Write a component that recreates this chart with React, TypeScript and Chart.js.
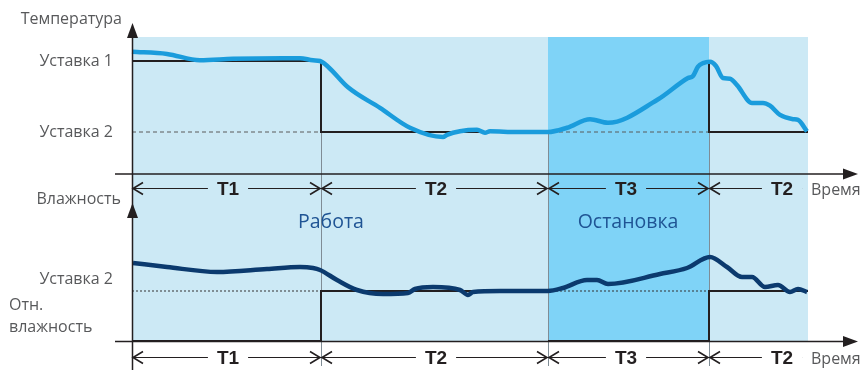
import React, { useEffect, useRef } from "react";
import { Chart, registerables } from "chart.js";

Chart.register(...registerables);

// ---- data (time units from the origin, values in panel units) ----
const PHASE_BOUNDS = [0, 189, 416, 577, 676];
const PHASE_LABELS = ["T1", "T2", "T3", "T2"];
const MODE_LABELS = ["Работа", "Остановка"];

const TEMP_SET1 = 30;
const TEMP_SET2 = 20;
const HUM_SET = 60;
const HUM_BASE = 50;

const tempTime = [0, 35, 68, 101, 151, 168, 181, 188, 196, 216, 248, 278, 311, 315, 328, 345, 353, 358, 385, 416, 435, 458, 476, 525, 556, 561, 566, 571, 578, 584, 591, 598, 605, 620, 631, 638, 648, 661, 666, 675];
const tempValues = [31.3, 31.0, 30.1, 30.3, 30.4, 30.4, 30.1, 30.0, 29.2, 26.3, 23.4, 20.6, 19.3, 19.6, 20.1, 20.3, 19.9, 20.1, 20.0, 20.0, 20.6, 21.8, 21.3, 24.5, 27.6, 27.9, 29.2, 29.7, 29.9, 29.3, 27.6, 27.5, 26.6, 24.1, 24.1, 23.7, 22.4, 21.8, 21.7, 20.1];

const humTime = [1, 35, 85, 135, 168, 181, 188, 205, 225, 251, 276, 283, 301, 328, 336, 341, 368, 416, 431, 455, 465, 476, 528, 555, 578, 595, 610, 620, 633, 646, 658, 666, 675];
const humValues = [65.6, 64.8, 63.8, 64.4, 64.8, 64.6, 64.2, 62.2, 60.2, 59.4, 59.6, 60.4, 60.8, 60.2, 59.2, 59.8, 60.0, 60.0, 60.6, 62.2, 62.2, 61.4, 63.4, 64.6, 66.8, 64.8, 62.8, 62.8, 60.8, 61.2, 59.8, 60.4, 59.8];

const tempSetTime = [0, 189, 189, 416, 500, 577, 577, 676];
const tempSetValues = [30, 30, 20, 20, null, 30, 20, 20];

const humSetTime = [0, 189, 189, 416, 416, 416, 577, 577, 676];
const humSetValues = [50, 50, 60, 60, null, 50, 50, 60, 60];

// ---- layout ----
const W = 864;
const H = 370;
const FONT = "'Open Sans', 'Noto Sans', sans-serif";
const TEXT_GRAY = "#58595b";
const INK = "#231f20";

function rangeFor(v1: number, p1: number, v2: number, p2: number) {
  const s = (p2 - p1) / (v1 - v2);
  const max = v1 + p1 / s;
  return { min: max - H / s, max };
}

const tempRange = rangeFor(TEMP_SET1, 61, TEMP_SET2, 132);
const humRange = rangeFor(HUM_SET, 291, HUM_BASE, 341);

const pts = (xs: number[], ys: (number | null)[]) => xs.map((x, i) => ({ x, y: ys[i] }));

const decorPlugin = {
  id: "decor",
  beforeDatasetsDraw(chart: any) {
    const { ctx, scales } = chart;
    const xs = scales.x;
    const yT = scales.yT;
    const yH = scales.yH;
    const x0 = xs.getPixelForValue(PHASE_BOUNDS[0]);
    const xEnd = xs.getPixelForValue(PHASE_BOUNDS[4]);
    const top = 37;
    const bottom = yH.getPixelForValue(HUM_BASE);
    ctx.save();
    ctx.fillStyle = "#cce9f5";
    ctx.fillRect(x0, top, xEnd - x0, bottom - top);
    const s3 = xs.getPixelForValue(PHASE_BOUNDS[2]);
    const e3 = xs.getPixelForValue(PHASE_BOUNDS[3]);
    ctx.fillStyle = "#7fd3f7";
    ctx.fillRect(s3, top, e3 - s3, bottom - top);

    // thin phase boundary lines
    ctx.strokeStyle = "#7f8c95";
    ctx.lineWidth = 1;
    for (let i = 1; i < 4; i++) {
      const px = Math.round(xs.getPixelForValue(PHASE_BOUNDS[i])) + 0.5;
      ctx.beginPath();
      ctx.moveTo(px, yT.getPixelForValue(TEMP_SET2));
      ctx.lineTo(px, 366);
      ctx.stroke();
    }
    ctx.restore();
  },
  afterDatasetsDraw(chart: any) {
    const { ctx, scales } = chart;
    const xs = scales.x;
    const yH = scales.yH;
    const ax = Math.round(xs.getPixelForValue(0)) + 0.5;
    const upperAxisY = 174;
    const lowerAxisY = Math.round(yH.getPixelForValue(HUM_BASE)) + 0.5;
    ctx.save();
    ctx.strokeStyle = INK;
    ctx.fillStyle = INK;
    ctx.lineWidth = 1.5;
    // vertical axis
    ctx.beginPath();
    ctx.moveTo(ax, 30);
    ctx.lineTo(ax, 370);
    ctx.stroke();
    // horizontal axes
    for (const y of [upperAxisY, lowerAxisY]) {
      ctx.beginPath();
      ctx.moveTo(115, y);
      ctx.lineTo(848, y);
      ctx.stroke();
      ctx.beginPath();
      ctx.moveTo(858, y);
      ctx.lineTo(843, y - 5.5);
      ctx.lineTo(843, y + 5.5);
      ctx.closePath();
      ctx.fill();
    }
    // y axis arrow heads
    for (const tip of [23, 203]) {
      ctx.beginPath();
      ctx.moveTo(ax, tip);
      ctx.lineTo(ax - 5.5, tip + 15);
      ctx.lineTo(ax + 5.5, tip + 15);
      ctx.closePath();
      ctx.fill();
    }

    // interval rows
    const labelCenters = [228, 436, 626, 782];
    const rowEnds = [PHASE_BOUNDS[1], PHASE_BOUNDS[2], PHASE_BOUNDS[3], null];
    for (const ry of [188.5, 357.5]) {
      ctx.font = `bold 19px 'Liberation Sans', Arial, sans-serif`;
      ctx.textAlign = "center";
      ctx.textBaseline = "middle";
      for (let i = 0; i < 4; i++) {
        const sx = xs.getPixelForValue(PHASE_BOUNDS[i]);
        const ex = rowEnds[i] === null ? 802 : xs.getPixelForValue(rowEnds[i] as number);
        const cx = labelCenters[i];
        const tw = ctx.measureText(PHASE_LABELS[i]).width;
        ctx.lineWidth = 1;
        ctx.beginPath();
        ctx.moveTo(sx, ry);
        ctx.lineTo(cx - tw / 2 - 9, ry);
        ctx.moveTo(cx + tw / 2 + 9, ry);
        ctx.lineTo(ex, ry);
        ctx.stroke();
        ctx.lineWidth = 1.6;
        // left chevron
        ctx.beginPath();
        ctx.moveTo(sx + 11, ry - 6);
        ctx.lineTo(sx + 1, ry);
        ctx.lineTo(sx + 11, ry + 6);
        ctx.stroke();
        if (rowEnds[i] !== null) {
          ctx.beginPath();
          ctx.moveTo(ex - 11, ry - 6);
          ctx.lineTo(ex - 1, ry);
          ctx.lineTo(ex - 11, ry + 6);
          ctx.stroke();
        }
        ctx.fillText(PHASE_LABELS[i], cx, ry + 1);
      }
      ctx.font = `16px ${FONT}`;
      ctx.fillStyle = TEXT_GRAY;
      ctx.textAlign = "left";
      ctx.fillText("Время", 811, ry + 2);
      ctx.fillStyle = INK;
    }

    // texts
    ctx.fillStyle = TEXT_GRAY;
    ctx.font = `16px ${FONT}`;
    ctx.textBaseline = "middle";
    ctx.textAlign = "right";
    ctx.fillText("Температура", 122, 19);
    ctx.fillText("Уставка 1", 113, 61);
    ctx.fillText("Уставка 2", 113, 132);
    ctx.fillText("Влажность", 121, 199);
    ctx.fillText("Уставка 2", 113, 279);
    ctx.textAlign = "left";
    ctx.fillText("Отн.", 9, 305);
    ctx.fillText("влажность", 9, 327);

    ctx.fillStyle = "#1f5494";
    ctx.font = `19.5px ${FONT}`;
    ctx.textAlign = "center";
    ctx.fillText(MODE_LABELS[0], 331, 222);
    ctx.fillText(MODE_LABELS[1], 628, 222);
    ctx.restore();
  },
};

export default function App() {
  const ref = useRef<HTMLCanvasElement | null>(null);
  useEffect(() => {
    document.body.style.margin = "0";
    const canvas = ref.current;
    if (!canvas) return;
    const chart = new Chart(canvas, {
      type: "line",
      data: {
        datasets: [
          {
            label: "Температура",
            data: pts(tempTime, tempValues),
            yAxisID: "yT",
            borderColor: "#1a9cdc",
            borderWidth: 4.5,
            cubicInterpolationMode: "monotone",
            order: 0,
          },
          {
            label: "Влажность",
            data: pts(humTime, humValues),
            yAxisID: "yH",
            borderColor: "#0b3a6e",
            borderWidth: 4.5,
            cubicInterpolationMode: "monotone",
            order: 0,
          },
          {
            label: "Уставка температуры",
            data: pts(tempSetTime, tempSetValues),
            yAxisID: "yT",
            borderColor: INK,
            borderWidth: 2,
            tension: 0,
            spanGaps: false,
            order: 1,
          },
          {
            label: "Уставка влажности",
            data: pts(humSetTime, humSetValues),
            yAxisID: "yH",
            borderColor: INK,
            borderWidth: 2,
            tension: 0,
            spanGaps: false,
            order: 1,
          },
          {
            label: "Уставка 2 (темп.)",
            data: pts([PHASE_BOUNDS[0], PHASE_BOUNDS[4]], [TEMP_SET2, TEMP_SET2]),
            yAxisID: "yT",
            borderColor: "#5a5a5a",
            borderWidth: 1,
            borderDash: [4, 3],
            order: 2,
          },
          {
            label: "Уставка 2 (влажн.)",
            data: pts([PHASE_BOUNDS[0], PHASE_BOUNDS[4]], [HUM_SET, HUM_SET]),
            yAxisID: "yH",
            borderColor: "#333",
            borderWidth: 1,
            borderDash: [2, 2],
            order: 2,
          },
        ],
      },
      options: {
        responsive: false,
        maintainAspectRatio: false,
        devicePixelRatio: 1,
        animation: false,
        layout: { padding: 0 },
        elements: { point: { radius: 0, hoverRadius: 0 } },
        plugins: { legend: { display: false }, tooltip: { enabled: false } },
        scales: {
          x: { type: "linear", display: false, min: -132, max: 732 },
          yT: { type: "linear", display: false, min: tempRange.min, max: tempRange.max },
          yH: { type: "linear", display: false, min: humRange.min, max: humRange.max },
        },
      },
      plugins: [decorPlugin],
    });
    return () => chart.destroy();
  }, []);
  return <canvas ref={ref} width={W} height={H} style={{ display: "block", width: W, height: H }} />;
}
